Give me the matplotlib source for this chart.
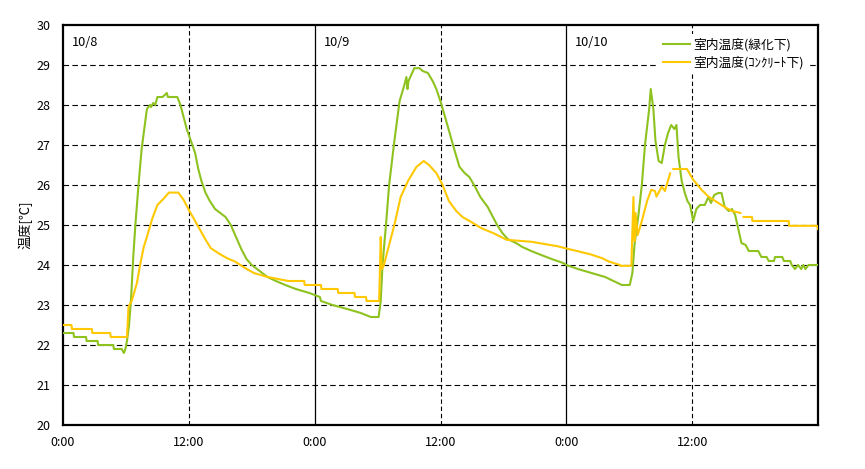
import numpy as np
import matplotlib
matplotlib.use("Agg")
import matplotlib.pyplot as plt
import matplotlib.transforms as mtransforms

plt.rcParams['font.family'] = ['Noto Sans CJK JP', 'DejaVu Sans']

# ---- data ----
green_label = "室内温度(緑化下)"
orange_label = "室内温度(ｺﾝｸﾘｰﾄ下)"

green_hours = [0.0, 1.0, 1.05, 2.2, 2.25, 3.3, 3.35, 4.8, 4.85, 5.6, 5.8, 5.95, 6.1, 6.3, 6.5, 6.7,
               6.9, 7.2, 7.5, 7.7, 8.0, 8.3, 8.4, 8.6, 8.8, 9.0, 9.5, 9.9, 10.0, 10.9, 11.2, 11.5,
               11.8, 12.2, 12.6, 12.9, 13.2, 13.6, 14.0, 14.5, 15.0, 15.5, 16.0, 16.5, 17.0, 17.5,
               18.0, 18.5, 19.0, 19.5, 20.3, 21.2, 22.2, 23.5, 24.5, 24.6, 25.7, 27.1, 28.4, 29.35,
               30.1, 30.3, 30.47, 30.8, 31.1, 31.6, 32.1, 32.5, 32.75, 32.85, 32.95, 33.5, 34.0, 34.3,
               34.8, 35.25, 35.6, 36.05, 36.7, 37.3, 37.8, 38.3, 38.75, 39.2, 39.8, 40.5, 41.0, 41.4,
               41.9, 42.4, 43.2, 43.8, 44.65, 45.6, 46.6, 47.7, 48.0, 49.1, 50.4, 51.7, 52.5, 53.3,
               54.05, 54.3, 54.5, 54.9, 55.2, 55.5, 55.9, 56.05, 56.3, 56.5, 56.8, 57.1, 57.4, 57.7,
               58.0, 58.3, 58.5, 58.7, 59.0, 59.3, 59.55, 59.8, 60.1, 60.4, 60.75, 61.2, 61.55, 61.8,
               62.1, 62.5, 62.8, 63.1, 63.5, 63.8, 64.1, 64.4, 64.7, 65.1, 65.4, 66.3, 66.6, 67.1,
               67.3, 67.8, 67.9, 68.6, 68.75, 69.35, 69.5, 69.8, 70.1, 70.4, 70.6, 70.8, 71.1, 72.0]
green_temps = [22.3, 22.3, 22.2, 22.2, 22.1, 22.1, 22.0, 22.0, 21.9, 21.9, 21.8, 21.9, 22.1, 22.5, 23.2, 24.2,
               25.0, 26.0, 26.9, 27.3, 27.9, 28.0, 27.95, 28.05, 28.0, 28.2, 28.2, 28.3, 28.2, 28.2, 28.0, 27.7,
               27.4, 27.1, 26.8, 26.4, 26.1, 25.8, 25.6, 25.4, 25.3, 25.2, 25.0, 24.7, 24.4, 24.15,
               24.0, 23.9, 23.8, 23.7, 23.6, 23.5, 23.4, 23.3, 23.2, 23.1, 23.0, 22.9, 22.8, 22.7,
               22.7, 23.1, 24.0, 25.0, 26.0, 27.1, 28.1, 28.45, 28.7, 28.4, 28.6, 28.92, 28.92, 28.85,
               28.8, 28.6, 28.4, 28.05, 27.46, 26.9, 26.46, 26.3, 26.2, 26.0, 25.7, 25.45, 25.2, 25.0,
               24.8, 24.65, 24.55, 24.45, 24.35, 24.25, 24.15, 24.05, 24.0, 23.9, 23.8, 23.7, 23.6, 23.5,
               23.5, 23.8, 24.5, 25.3, 26.0, 27.0, 27.9, 28.4, 27.9, 27.1, 26.6, 26.55, 27.0, 27.3,
               27.5, 27.4, 27.5, 26.7, 26.1, 25.8, 25.6, 25.5, 25.1, 25.4, 25.5, 25.5, 25.7, 25.55,
               25.75, 25.8, 25.8, 25.45, 25.35, 25.4, 25.25, 24.9, 24.55, 24.5, 24.35, 24.35, 24.2, 24.2,
               24.1, 24.1, 24.2, 24.2, 24.1, 24.1, 24.0, 23.9, 24.0, 23.9, 24.0, 23.9, 24.0, 24.0]

orange_hours = [0.0, 0.8, 0.85, 2.75, 2.8, 4.5, 4.55, 6.1, 6.25, 6.55, 7.05, 7.35, 7.7, 8.0, 8.5, 9.0,
                9.6, 10.1, 11.0, 11.5, 12.1, 12.9, 13.6, 14.1, 14.85, 15.65, 16.45, 17.2, 18.2, 19.5,
                21.5, 23.0, 23.05, 24.6, 24.65, 26.2, 26.25, 27.8, 27.85, 28.9, 28.95, 30.15, 30.3, 30.4,
                30.6, 31.1, 31.6, 32.2, 32.9, 33.7, 34.4, 34.9, 35.6, 36.2, 36.8, 37.5, 38.1, 38.9,
                39.9, 41.1, 42.3, 44.7, 46.9, 47.0, 48.5, 48.55, 50.1, 50.15, 51.3, 51.35, 52.1, 52.15,
                53.1, 53.15, 54.2, 54.4, 54.5, 54.6, 54.8, 55.2, 55.7, 56.1, 56.45, 56.6, 57.1, 57.4,
                57.9, 58.05, 58.2, 59.5, 60.1, 60.9, 61.55, 62.2, 62.8, 63.3, 63.8, 64.6, 64.75, 64.9,
                65.7, 65.75, 69.2, 69.25, 71.9, 72.0]
orange_temps = [22.5, 22.5, 22.4, 22.4, 22.3, 22.3, 22.2, 22.2, 22.96, 23.1, 23.55, 24.0, 24.45, 24.7, 25.15, 25.5,
                25.66, 25.81, 25.81, 25.63, 25.33, 24.96, 24.63, 24.42, 24.29, 24.17, 24.08, 23.95, 23.8, 23.7,
                23.6, 23.6, 23.5, 23.5, 23.4, 23.4, 23.3, 23.3, 23.2, 23.2, 23.1, 23.1, 24.7, 23.9,
                24.0, 24.5, 25.0, 25.7, 26.1, 26.45, 26.6, 26.5, 26.3, 26.0, 25.6, 25.35, 25.2, 25.08,
                24.92, 24.79, 24.63, 24.58, 24.48, 24.48, 24.38, 24.38, 24.28, 24.28, 24.18, 24.18, 24.08, 24.08,
                24.0, 23.98, 23.98, 25.7, 24.6, 25.3, 24.75, 25.1, 25.6, 25.88, 25.85, 25.71, 25.96, 25.85,
                26.29, np.nan, 26.4, 26.4, 26.13, 25.88, 25.71, 25.6, 25.5, 25.42, 25.35, 25.3, np.nan, 25.2,
                25.2, 25.1, 25.1, 24.98, 24.98, 24.9]

x_ticks = [0, 12, 24, 36, 48, 60]
x_ticklabels = ["0:00", "12:00", "0:00", "12:00", "0:00", "12:00"]
y_ticks = list(range(20, 31))
day_starts = [0, 24, 48]
day_labels = ["10/8", "10/9", "10/10"]

green_color = "#8dc21f"
orange_color = "#ffc800"

# ---- figure ----
fig = plt.figure(figsize=(8.65, 4.69), dpi=100)
ax = fig.add_axes([63 / 865, 1 - 425 / 469, (818 - 63) / 865, 400 / 469])

ax.set_xlim(0, 72)
ax.set_ylim(20, 30)

# grid lines
for y in y_ticks[1:-1]:
    ax.axhline(y, color="black", lw=0.8, dashes=(5, 3), zorder=1)
for xv in x_ticks:
    if xv in day_starts:
        if xv != 0:
            ax.axvline(xv, color="black", lw=0.9, zorder=1)
    else:
        ax.axvline(xv, color="black", lw=0.8, dashes=(4, 2.5), zorder=1)

ax.plot(green_hours, green_temps, color=green_color, lw=1.5, label=green_label, zorder=3)
ax.plot(orange_hours, orange_temps, color=orange_color, lw=1.5, label=orange_label, zorder=4)

ax.set_xticks(x_ticks)
ax.set_xticklabels(x_ticklabels)
ax.set_yticks(y_ticks)
ax.tick_params(axis="both", length=0, labelsize=9, pad=9)
ax.tick_params(axis="x", pad=8)
for sp in ax.spines.values():
    sp.set_linewidth(1.6)

ax.set_ylabel("温度[℃]", fontsize=9.5, labelpad=3)

trans = mtransforms.blended_transform_factory(ax.transData, ax.transAxes)
for ds, lab in zip(day_starts, day_labels):
    ax.text(ds + 0.85, 0.957, lab, transform=trans, fontsize=9.2, va="center", ha="left", zorder=5)

leg = ax.legend(loc="upper right", bbox_to_anchor=(0.986, 0.9775), fontsize=9.2,
                frameon=True, fancybox=False, framealpha=1, facecolor="white",
                edgecolor="none", borderaxespad=0, borderpad=0.3,
                handlelength=2.1, handletextpad=0.25, labelspacing=0.34)
leg.set_zorder(6)

fig.savefig("out.png", dpi=100)
